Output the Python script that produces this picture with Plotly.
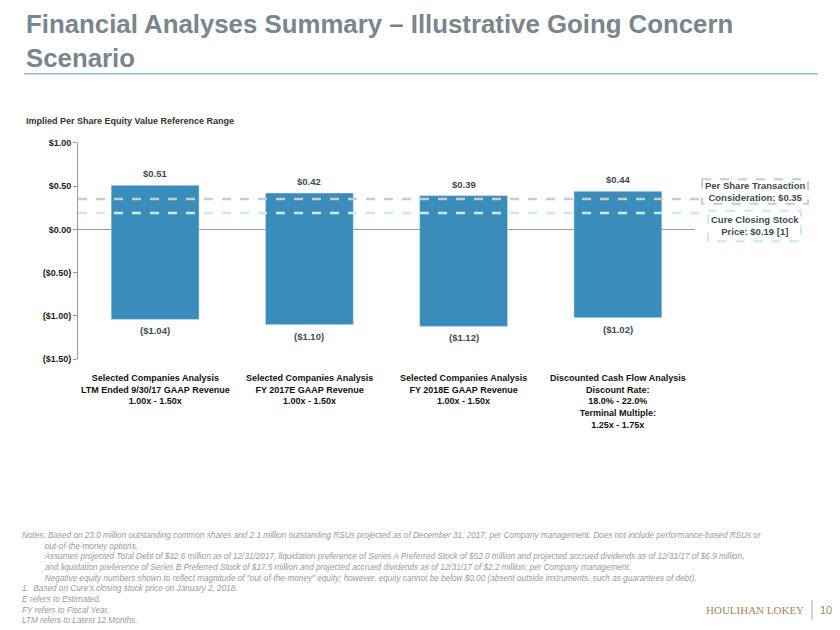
import plotly.graph_objects as go

categories = ["A", "B", "C", "D"]
highs = [0.51, 0.42, 0.39, 0.44]
lows = [-1.04, -1.10, -1.12, -1.02]
high_labels = ["$0.51", "$0.42", "$0.39", "$0.44"]
low_labels = ["($1.04)", "($1.10)", "($1.12)", "($1.02)"]
cat_labels = [
    "Selected Companies Analysis<br>LTM Ended 9/30/17 GAAP Revenue<br>1.00x - 1.50x",
    "Selected Companies Analysis<br>FY 2017E GAAP Revenue<br>1.00x - 1.50x",
    "Selected Companies Analysis<br>FY 2018E GAAP Revenue<br>1.00x - 1.50x",
    "Discounted Cash Flow Analysis<br>Discount Rate:<br>18.0% - 22.0%<br>Terminal Multiple:<br>1.25x - 1.75x",
]
transaction = 0.35
closing = 0.19
yticks = [1.0, 0.5, 0.0, -0.5, -1.0, -1.5]
yticklabels = ["$1.00", "$0.50", "$0.00", "($0.50)", "($1.00)", "($1.50)"]

W, H = 840, 630
x0, x1 = 78 / W, 695 / W
ytop, ybot = 140, 360
font = "Liberation Sans, Arial, sans-serif"
dark = "#3d4a52"

fig = go.Figure()
fig.add_bar(x=categories, y=[h - l for h, l in zip(highs, lows)], base=lows,
            marker_color="#3a8dbb", width=0.57, hoverinfo="skip")

fig.update_layout(
    width=W, height=H, margin=dict(l=0, r=0, t=0, b=0),
    plot_bgcolor="white", paper_bgcolor="white", showlegend=False,
    font=dict(family=font, color=dark),
    xaxis=dict(domain=[x0, x1], range=[-0.5, 3.5], showticklabels=False,
               showgrid=False, zeroline=False),
    yaxis=dict(domain=[1 - ybot / H, 1 - ytop / H], range=[-1.5, 1.0],
               tickvals=yticks, ticktext=[f"<b>{t}</b>" for t in yticklabels], showgrid=False,
               zeroline=True, zerolinecolor="#999", zerolinewidth=1,
               showline=True, linecolor="#999", ticks="outside", ticklen=4,
               tickcolor="#999", tickfont=dict(size=9, color="#222", family=font)),
)

shapes = [
    dict(type="line", xref="paper", yref="y", x0=x0, x1=700 / W, y0=transaction, y1=transaction,
         line=dict(color="#c5ccc9", width=2.5, dash="dash"), layer="above"),
    dict(type="line", xref="paper", yref="y", x0=x0, x1=708 / W, y0=closing, y1=closing,
         line=dict(color="#c8eaf0", width=2.5, dash="dash"), layer="above"),
    dict(type="line", xref="paper", yref="paper", x0=24 / W, x1=818 / W, y0=1 - 70 / H, y1=1 - 70 / H,
         line=dict(color="#4a9cc7", width=1)),
    dict(type="rect", xref="paper", yref="paper", x0=702 / W, x1=808 / W, y0=1 - 177 / H, y1=1 - 202 / H,
         line=dict(color="#c5ccc9", width=2, dash="dash")),
    dict(type="rect", xref="paper", yref="paper", x0=708 / W, x1=801 / W, y0=1 - 209 / H, y1=1 - 240 / H,
         line=dict(color="#c8eaf0", width=2, dash="dash")),
    dict(type="line", xref="paper", yref="paper", x0=812 / W, x1=812 / W, y0=1 - 605 / H, y1=1 - 625 / H,
         line=dict(color="#aaa", width=1)),
]
fig.update_layout(shapes=shapes)

ann = []
for i, (c, h, l, hl, ll) in enumerate(zip(categories, highs, lows, high_labels, low_labels)):
    ann.append(dict(x=c, y=h, text=f"<b>{hl}</b>", showarrow=False, yanchor="bottom", yshift=4,
                    font=dict(size=9.5, color=dark)))
    ann.append(dict(x=c, y=l, text=f"<b>{ll}</b>", showarrow=False, yanchor="top", yshift=-4,
                    font=dict(size=9.5, color=dark)))
    ann.append(dict(x=c, y=1 - 372 / H, yref="paper", text=f"<b>{cat_labels[i]}</b>",
                    showarrow=False, xanchor="center", yanchor="top", font=dict(size=9, color="#111")))

ann += [
    dict(xref="paper", yref="paper", x=24 / W, y=1 - 3 / H, xanchor="left", yanchor="top", align="left",
         text="<b>Financial Analyses Summary – Illustrative Going Concern<br>Scenario</b>", showarrow=False,
         font=dict(size=25.8, color="#7a858d")),
    dict(xref="paper", yref="paper", x=24 / W, y=1 - 118 / H, xanchor="left", yanchor="middle",
         text="<b>Implied Per Share Equity Value Reference Range</b>", showarrow=False,
         font=dict(size=9, color="#333")),
    dict(xref="paper", yref="paper", x=755 / W, y=1 - 190 / H, xanchor="center", yanchor="middle",
         text="<b>Per Share Transaction<br>Consideration: $0.35</b>",
         showarrow=False, font=dict(size=9.5, color=dark)),
    dict(xref="paper", yref="paper", x=755 / W, y=1 - 224 / H, xanchor="center", yanchor="middle",
         text="<b>Cure Closing Stock<br>Price: $0.19 [1]</b>",
         showarrow=False, font=dict(size=9.5, color=dark)),
    dict(xref="paper", yref="paper", x=20 / W, y=1 - 532 / H, xanchor="left", yanchor="top", align="left",
         showarrow=False, font=dict(size=8.2, color="#999"),
         text="<i>Notes: Based on 23.0 million outstanding common shares and 2.1 million outstanding RSUs projected as of December 31, 2017, per Company management. Does not include performance-based RSUs or<br>"
              "          out-of-the-money options.<br>"
              "          Assumes projected Total Debt of $32.6 million as of 12/31/2017, liquidation preference of Series A Preferred Stock of $52.0 million and projected accrued dividends as of 12/31/17 of $6.9 million,<br>"
              "          and liquidation preference of Series B Preferred Stock of $17.5 million and projected accrued dividends as of 12/31/17 of $2.2 million, per Company management.<br>"
              "          Negative equity numbers shown to reflect magnitude of \"out-of-the-money\" equity; however, equity cannot be below $0.00 (absent outside instruments, such as guarantees of debt).<br>"
              "1.  Based on Cure’s closing stock price on January 2, 2018.<br>"
              "E refers to Estimated.<br>FY refers to Fiscal Year.<br>LTM refers to Latest 12 Months.</i>"),
    dict(xref="paper", yref="paper", x=806 / W, y=1 - 615 / H, xanchor="right", yanchor="middle",
         text="HOULIHAN LOKEY",
         showarrow=False, font=dict(size=11, color="#a08a55", family="Liberation Serif, serif")),
    dict(xref="paper", yref="paper", x=818 / W, y=1 - 615 / H, xanchor="left", yanchor="middle", text="10",
         showarrow=False, font=dict(size=11, color="#a08a55")),
]
fig.update_layout(annotations=ann)
fig.write_html("out.html", config={"displayModeBar": False})

with open("out.html", encoding="utf-8") as f:
    html = f.read()
html = html.replace("<head>", "<head><style>html,body{margin:0;padding:0;overflow:hidden}</style>", 1)
with open("out.html", "w", encoding="utf-8") as f:
    f.write(html)
